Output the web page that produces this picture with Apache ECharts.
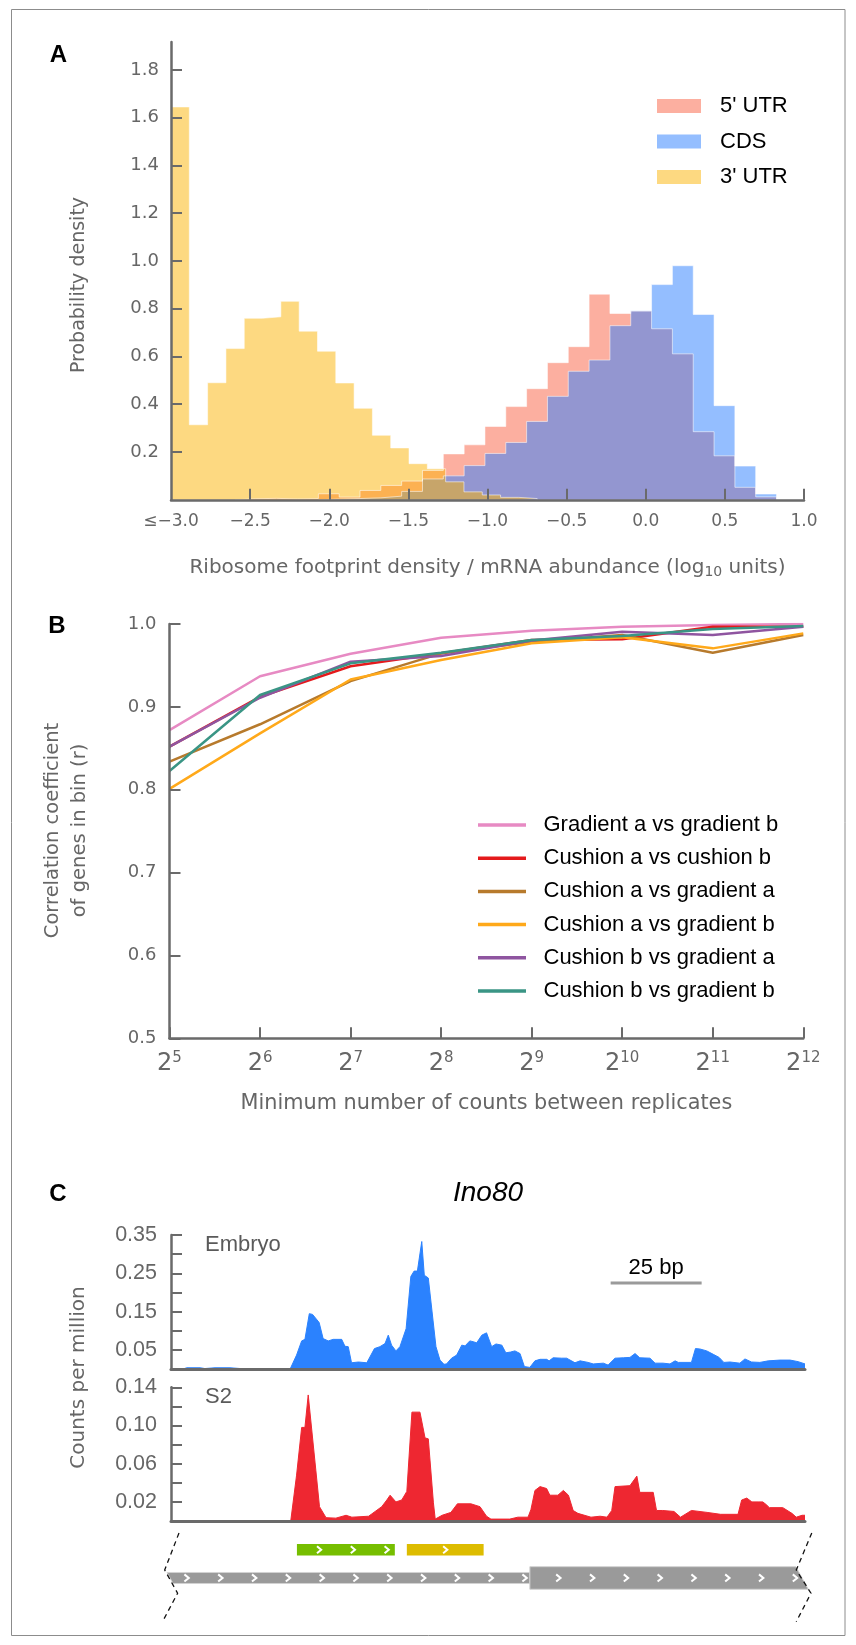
<!DOCTYPE html>
<html><head><meta charset="utf-8">
<script src="https://cdn.jsdelivr.net/npm/echarts@6/dist/echarts.min.js"></script>
<style>html,body{margin:0;padding:0;background:#fff}#c{width:856px;height:1645px}</style>
</head><body><div id="c"></div>
<script>
// ---------------- Panel A: histograms (bin start, bin width, densities) ----------------
const utr5BinStart = -2.99, utr5BinWidth = 0.1316;
const utr5Density = [0,0,0,0.004,0.006,0.003,0.005,0.025,0.011,0.039,0.06,0.078,0.123,0.192,0.23,0.307,0.39,0.465,0.574,0.641,0.861,0.78,0.79,0.716,0.611,0.285,0.184,0.052,0.012];
const cdsBinStart = -2.99, cdsBinWidth = 0.1316;
const cdsDensity = [0,0,0,0,0,0,0,0.003,0.005,0.008,0.015,0.035,0.087,0.1,0.143,0.194,0.24,0.328,0.433,0.538,0.585,0.729,0.792,0.901,0.98,0.776,0.394,0.141,0.024];
const utr3BinStart = -3.0, utr3BinWidth = 0.1157;
const utr3Density = [1.645,0.314,0.49,0.633,0.76,0.766,0.831,0.706,0.622,0.489,0.383,0.27,0.217,0.151,0.13,0.075,0.033,0.02,0.01,0.005];
const histNames = ["5' UTR", "CDS", "3' UTR"];
const aXTicks = [-3,-2.5,-2,-1.5,-1,-0.5,0,0.5,1];
const aYTicks = [0.2,0.4,0.6,0.8,1.0,1.2,1.4,1.6,1.8];

// ---------------- Panel B: correlation vs min counts (log2) ----------------
const countExponents = [5,6,7,8,9,10,11,12];
const gradAvsGradB = [0.872,0.937,0.964,0.9835,0.992,0.9968,0.9988,1.0];
const cushAvsCushB = [0.852,0.912,0.949,0.9646,0.9807,0.9815,0.9968,0.9968];
const cushAvsGradA = [0.834,0.879,0.931,0.9646,0.9787,0.9867,0.9654,0.9867];
const cushAvsGradB = [0.801,0.868,0.933,0.9566,0.9767,0.9839,0.9706,0.9887];
const cushBvsGradA = [0.852,0.911,0.9545,0.9614,0.98,0.9907,0.9867,0.9968];
const cushBvsGradB = [0.8226,0.9143,0.9525,0.9654,0.9807,0.9855,0.994,0.9976];
const corrNames = ['Gradient a vs gradient b','Cushion a vs cushion b','Cushion a vs gradient a','Cushion a vs gradient b','Cushion b vs gradient a','Cushion b vs gradient b'];
const corrSeries = [gradAvsGradB, cushAvsCushB, cushAvsGradA, cushAvsGradB, cushBvsGradA, cushBvsGradB];
const bYTicks = [0.5,0.6,0.7,0.8,0.9,1.0];

// ---------------- Panel C: Ino80 footprint tracks (bp position, counts per million) ----------------
const embryoPos = [0,3.3,4.4,8.0,9.3,12.1,16.2,19.0,21.7,32.1,32.7,34.5,35.9,36.8,38.0,38.9,40.7,41.8,43.2,44.6,46.9,47.8,48.7,49.6,51.5,53.8,55.9,57.4,58.8,59.7,60.6,61.8,62.9,64.6,65.9,66.8,67.7,68.9,69.6,70.7,72.8,73.9,75.0,75.7,77.1,78.5,79.9,80.8,82.1,83.0,84.0,85.4,86.7,87.2,88.1,89.3,90.9,92.0,93.3,94.5,95.9,97.1,98.6,100.0,101.4,103.2,103.9,105.0,107.3,108.7,111.0,112.4,114.6,116.0,118.8,120.1,122.0,124.3,126.1,127.5,128.8,131.6,133.0,135.2,137.1,138.5,139.4,143.0,144.1,145.3,147.2,149.0,150.6,151.9,153.6,156.3,157.7,159.5,161.8,164.1,167.3,170.1,172.3,174.2];
const embryoCpm = [0,0.001,0.004,0.004,0.002,0.004,0.004,0.002,0,0,0,0.037,0.074,0.078,0.145,0.143,0.122,0.080,0.074,0.078,0.078,0.060,0.059,0.017,0.019,0.017,0.054,0.059,0.067,0.089,0.063,0.048,0.059,0.106,0.242,0.256,0.256,0.333,0.245,0.238,0.059,0.024,0.013,0.014,0.029,0.037,0.063,0.061,0.074,0.072,0.069,0.089,0.095,0.093,0.059,0.066,0.063,0.043,0.045,0.048,0.041,0.007,0.005,0.022,0.026,0.026,0.022,0.030,0.029,0.029,0.017,0.022,0.018,0.014,0.016,0.011,0.029,0.030,0.031,0.041,0.030,0.029,0.016,0.016,0.014,0.022,0.018,0.018,0.054,0.053,0.048,0.039,0.031,0.018,0.019,0.016,0.027,0.019,0.018,0.022,0.024,0.024,0.020,0.014];
const s2Pos = [0,32.1,32.9,34.5,35.9,36.8,37.7,39.8,40.8,42.6,45.3,48.1,49.7,54.3,57.9,59.3,60.2,61.8,63.4,64.8,66.2,68.4,69.8,70.7,72.1,72.6,74.5,76.9,78.7,82.4,84.9,86.7,87.9,93.1,95.3,98.1,98.9,100.0,101.4,103.2,104.1,106.3,107.8,109.2,110.5,111.8,115.4,117.9,119.8,121.1,122.0,126.1,128.0,128.8,132.5,133.4,135.1,138.2,140.0,143.0,147.3,151.0,155.8,156.8,158.2,159.6,161.3,162.6,163.6,164.4,168.1,170.6,171.8,173.4,174.2];
const s2Cpm = [0,0,0,0.048,0.098,0.098,0.132,0.053,0.015,0.0035,0.003,0.006,0.004,0.005,0.015,0.022,0.027,0.020,0.022,0.031,0.114,0.114,0.087,0.086,0.019,0.002,0.006,0.009,0.018,0.018,0.015,0.005,0.002,0.002,0.004,0.004,0.012,0.032,0.036,0.034,0.027,0.027,0.032,0.027,0.011,0.008,0.004,0.005,0.004,0.011,0.036,0.037,0.047,0.030,0.030,0.011,0.011,0.010,0.004,0.011,0.009,0.007,0.007,0.022,0.024,0.020,0.020,0.020,0.017,0.014,0.014,0.008,0.004,0.006,0.006];
const trackLength = 174.2;            // bp shown
const scaleBar = [120.8, 145.8, 0.2246]; // start bp, end bp, height (cpm)
const scaleBarLabel = '25 bp';
const embryoTicks = [0.05,0.10,0.15,0.20,0.25,0.30,0.35];
const embryoLabels = [0.05,0.15,0.25,0.35];
const s2Ticks = [0.02,0.04,0.06,0.08,0.10,0.12,0.14];
const s2Labels = [0.02,0.06,0.10,0.14];
// gene model (bp)
const geneSegStart = [-1.1, 98.6];
const geneSegEnd = [98.6, 175.1];
const geneSegType = ['UTR', 'CDS'];
const uorfStart = [34.6, 64.8];
const uorfEnd = [61.5, 85.9];
const uorfArrows = [3, 1];

// ---------------- styles ----------------
const ARIAL = '"Liberation Sans", Arial, sans-serif';
const DEJAVU = '"DejaVu Sans", sans-serif';
const GRAY = '#666';
const AXG = '#6a6a6a';
const histColors = ['rgba(249,95,65,0.5)', 'rgba(41,125,255,0.5)', 'rgba(251,179,3,0.5)'];
const corrColors = ['#E78AC3', '#E41A1C', '#B77A2C', '#FFA91A', '#8F55A0', '#3A9585'];
const uorfColors = ['#76BE00', '#DDBC00'];
const MODEL_ROW = 0.495, UORF_ROW = 0.792;

function histPath(start, width, dens) {
  const first = dens.findIndex(v => v > 0);
  const pts = [[start + first * width, 0]];
  for (let i = first; i < dens.length; i++) pts.push([start + i * width, dens[i]]);
  pts.push([start + dens.length * width, 0]);
  return pts;
}
const fmtMinus = v => (v < 0 ? '\u2212' : '') + Math.abs(v).toFixed(1);

function chev(x, y, s) {
  return {type: 'polyline', shape: {points: [[x - 2.2*s, y - 3.6*s], [x + 2.2*s, y], [x - 2.2*s, y + 3.6*s]]},
          style: {stroke: '#fff', lineWidth: 2, fill: null}};
}

const chart = echarts.init(document.getElementById('c'), null, {renderer: 'canvas', width: 856, height: 1645});

const axisLineStyle = {color: AXG, width: 2.5};
const tickStyle = {color: AXG, width: 2};

const series = [];
const histData = [[utr5BinStart, utr5BinWidth, utr5Density], [cdsBinStart, cdsBinWidth, cdsDensity], [utr3BinStart, utr3BinWidth, utr3Density]];
histData.forEach((h, i) => {
  series.push({
    type: 'line', name: histNames[i], xAxisIndex: 0, yAxisIndex: 0,
    data: histPath(h[0], h[1], h[2]), step: 'end', symbol: 'none', showSymbol: false,
    lineStyle: {color: 'rgba(255,255,255,0.55)', width: 1},
    areaStyle: {color: histColors[i], opacity: 1},
    itemStyle: {color: histColors[i]}, z: 2, silent: true
  });
});
corrSeries.forEach((vals, i) => {
  series.push({
    type: 'line', name: corrNames[i], xAxisIndex: 1, yAxisIndex: 1,
    data: countExponents.map((e, j) => [e, vals[j]]), symbol: 'none', showSymbol: false,
    color: corrColors[i], lineStyle: {color: corrColors[i], width: 2.5}, itemStyle: {color: corrColors[i]}, z: 3
  });
});
series.push({
  type: 'line', name: 'Embryo', xAxisIndex: 2, yAxisIndex: 2,
  data: embryoPos.map((p, i) => [p, embryoCpm[i]]), symbol: 'none', showSymbol: false,
  lineStyle: {color: '#2B82FE', width: 1}, areaStyle: {color: '#2B82FE', opacity: 1}, z: 2
});
series.push({
  type: 'line', name: 'S2', xAxisIndex: 3, yAxisIndex: 3,
  data: s2Pos.map((p, i) => [p, s2Cpm[i]]), symbol: 'none', showSymbol: false,
  lineStyle: {color: '#EE2731', width: 1}, areaStyle: {color: '#EE2731', opacity: 1}, z: 2
});
series.push({
  type: 'custom', name: 'scalebar', xAxisIndex: 2, yAxisIndex: 2, data: [scaleBar],
  renderItem: (params, api) => {
    const a = api.coord([api.value(0), api.value(2)]), b = api.coord([api.value(1), api.value(2)]);
    return {type: 'group', children: [
      {type: 'line', shape: {x1: a[0], y1: a[1], x2: b[0], y2: b[1]}, style: {stroke: '#9a9a9a', lineWidth: 3}},
      {type: 'text', x: (a[0] + b[0]) / 2, y: a[1] - 15.5, style: {text: scaleBarLabel, fontSize: 22, fontFamily: ARIAL, fill: '#000', align: 'center', verticalAlign: 'middle'}}
    ]};
  }
});
series.push({
  type: 'custom', name: 'gene', xAxisIndex: 4, yAxisIndex: 4, clip: false,
  data: geneSegStart.map((s, i) => [s, geneSegEnd[i], i]),
  renderItem: (params, api) => {
    const idx = api.value(2);
    const cds = geneSegType[idx] === 'CDS';
    const h = cds ? 22.6 : 11;
    const a = api.coord([api.value(0), MODEL_ROW]), b = api.coord([api.value(1), MODEL_ROW]);
    const cy = a[1], top = cy - h / 2, bot = cy + h / 2, sl = 0.55 * h;
    const first = idx === 0, last = idx === geneSegStart.length - 1;
    const lt = a[0], lb = first ? a[0] + sl : a[0];
    const rt = last ? b[0] - sl : b[0], rb = b[0];
    const ch = [{type: 'polygon', shape: {points: [[lt, top], [rt, top], [rb, bot], [lb, bot]]}, style: {fill: '#9a9a9a', stroke: '#d2d2d2', lineWidth: 1}}];
    const x0 = api.coord([geneSegStart[0], MODEL_ROW])[0] + 19.6;
    const lo = (lt + lb) / 2 + 4, hi = (rt + rb) / 2 - 3;
    for (let x = x0; x < 900; x += 33.8) { if (x >= lo && x <= hi) ch.push(chev(x, cy, 1)); }
    const dash = {stroke: '#111', lineWidth: 1.3, lineDash: [5, 4], fill: null};
    if (first) ch.push({type: 'polyline', shape: {points: [[lt + 12, cy - 45], [lt - 2.3, cy - 8], [lt + 10.6, cy + 15.3], [lt - 4.5, cy + 43.7]]}, style: dash});
    if (last) ch.push({type: 'polyline', shape: {points: [[rb + 3.5, cy - 45], [rb - 12, cy - 8], [rb + 2.7, cy + 15.3], [rb - 12, cy + 43.7]]}, style: dash});
    return {type: 'group', children: ch};
  }
});
series.push({
  type: 'custom', name: 'uORF', xAxisIndex: 4, yAxisIndex: 4, clip: false,
  data: uorfStart.map((s, i) => [s, uorfEnd[i], i]),
  renderItem: (params, api) => {
    const i = api.value(2);
    const a = api.coord([api.value(0), UORF_ROW]), b = api.coord([api.value(1), UORF_ROW]);
    const h = 11.7, cy = a[1];
    const ch = [{type: 'rect', shape: {x: a[0], y: cy - h / 2, width: b[0] - a[0], height: h}, style: {fill: uorfColors[i]}}];
    const n = uorfArrows[i], mid = (a[0] + b[0]) / 2;
    for (let k = 0; k < n; k++) ch.push(chev(mid + (k - (n - 1) / 2) * 33.8 + (n > 1 ? 7 : 0), cy, 0.95));
    return {type: 'group', children: ch};
  }
});

function txt(text, x, y, o) {
  o = o || {};
  const el = {type: 'text', x: x, y: y, silent: true, rotation: o.rot || 0,
    style: Object.assign({text: text, fontSize: 20, fontFamily: DEJAVU, fill: GRAY, align: 'center', verticalAlign: 'middle'}, o.style || {})};
  return el;
}

const option = {
  backgroundColor: '#fff',
  animation: false,
  grid: [
    {left: 171, right: 52, top: 42, bottom: 1145.25, outerBoundsMode: 'none'},
    {left: 169.5, right: 52.7, top: 624, bottom: 606.7, outerBoundsMode: 'none'},
    {left: 171, right: 51, top: 1235, bottom: 275.7, outerBoundsMode: 'none'},
    {left: 171, right: 51, top: 1387.3, bottom: 124, outerBoundsMode: 'none'},
    {left: 171, right: 51, top: 1530, bottom: 20, outerBoundsMode: 'none'}
  ],
  xAxis: [
    {type: 'value', gridIndex: 0, min: -3, max: 1, interval: 0.5, z: 5,
     axisLine: {show: true, onZero: false, lineStyle: axisLineStyle},
     axisTick: {show: true, inside: true, length: 11, customValues: aXTicks.slice(1), lineStyle: tickStyle},
     axisLabel: {customValues: aXTicks, margin: 13, fontFamily: DEJAVU, fontSize: 17, color: GRAY,
                 formatter: v => (Math.abs(v + 3) < 1e-9 ? '\u2264' : '') + fmtMinus(v)},
     splitLine: {show: false}},
    {type: 'value', gridIndex: 1, min: 5, max: 12, interval: 1, z: 5,
     axisLine: {show: true, onZero: false, lineStyle: axisLineStyle},
     axisTick: {show: true, inside: true, length: 11, lineStyle: tickStyle},
     axisLabel: {margin: 12, formatter: v => '{b|2}{s|' + v + '}',
       rich: {b: {fontSize: 24, fontFamily: DEJAVU, color: GRAY, lineHeight: 26},
              s: {fontSize: 15, fontFamily: DEJAVU, color: GRAY, verticalAlign: 'top', lineHeight: 12}}},
     splitLine: {show: false}},
    {type: 'value', gridIndex: 2, min: 0, max: trackLength, z: 5,
     axisLine: {show: true, onZero: false, lineStyle: {color: AXG, width: 3}}, axisTick: {show: false}, axisLabel: {show: false}, splitLine: {show: false}},
    {type: 'value', gridIndex: 3, min: 0, max: trackLength, z: 5,
     axisLine: {show: true, onZero: false, lineStyle: {color: AXG, width: 3}}, axisTick: {show: false}, axisLabel: {show: false}, splitLine: {show: false}},
    {type: 'value', gridIndex: 4, min: 0, max: trackLength, show: false}
  ],
  yAxis: [
    {type: 'value', gridIndex: 0, min: 0, max: 1.917, z: 5,
     axisLine: {show: true, onZero: false, lineStyle: axisLineStyle},
     axisTick: {show: true, inside: true, length: 11, customValues: aYTicks, lineStyle: tickStyle},
     axisLabel: {customValues: aYTicks, margin: 12, fontFamily: DEJAVU, fontSize: 18, color: GRAY, formatter: v => v.toFixed(1)},
     splitLine: {show: false}},
    {type: 'value', gridIndex: 1, min: 0.5, max: 1.0, interval: 0.1, z: 5,
     axisLine: {show: true, onZero: false, lineStyle: axisLineStyle},
     axisTick: {show: true, inside: true, length: 11, customValues: bYTicks, lineStyle: tickStyle},
     axisLabel: {customValues: bYTicks, margin: 13, fontFamily: DEJAVU, fontSize: 18, color: GRAY, formatter: v => v.toFixed(1)},
     splitLine: {show: false}},
    {type: 'value', gridIndex: 2, min: 0, max: 0.35, z: 5,
     axisLine: {show: true, onZero: false, lineStyle: axisLineStyle},
     axisTick: {show: true, inside: true, length: 11, customValues: embryoTicks, lineStyle: tickStyle},
     axisLabel: {customValues: embryoLabels, margin: 14, fontFamily: ARIAL, fontSize: 21.5, color: GRAY, formatter: v => v.toFixed(2)},
     splitLine: {show: false}},
    {type: 'value', gridIndex: 3, min: 0, max: 0.14, z: 5,
     axisLine: {show: true, onZero: false, lineStyle: axisLineStyle},
     axisTick: {show: true, inside: true, length: 11, customValues: s2Ticks, lineStyle: tickStyle},
     axisLabel: {customValues: s2Labels, margin: 14, fontFamily: ARIAL, fontSize: 21.5, color: GRAY, formatter: v => v.toFixed(2)},
     splitLine: {show: false}},
    {type: 'value', gridIndex: 4, min: 0, max: 1, show: false}
  ],
  legend: [
    {data: histNames, orient: 'vertical', left: 652, top: 90, icon: 'rect', itemWidth: 44, itemHeight: 14, itemGap: 13.5,
     itemStyle: {borderWidth: 0}, selectedMode: false,
     textStyle: {fontSize: 22, fontFamily: ARIAL, color: '#000', lineHeight: 18, padding: [0, 0, 0, 14]}},
    {data: corrNames, orient: 'vertical', left: 473, top: 809, icon: 'rect', itemWidth: 48, itemHeight: 3.5, itemGap: 11.2,
     itemStyle: {borderWidth: 0}, selectedMode: false,
     textStyle: {fontSize: 22, fontFamily: ARIAL, color: '#000', lineHeight: 22, padding: [0, 0, 0, 12.5]}}
  ],
  graphic: {elements: [
    {type: 'rect', silent: true, z: -10, shape: {x: 11.5, y: 9.5, width: 833.5, height: 1626}, style: {fill: 'rgba(0,0,0,0)', stroke: '#8c8c8c', lineWidth: 1}},
    txt('A', 58.5, 55.5, {style: {fontFamily: ARIAL, fontWeight: 'bold', fontSize: 24, fill: '#000'}}),
    txt('B', 57, 626, {style: {fontFamily: ARIAL, fontWeight: 'bold', fontSize: 24, fill: '#000'}}),
    txt('C', 58, 1194, {style: {fontFamily: ARIAL, fontWeight: 'bold', fontSize: 24, fill: '#000'}}),
    txt('Probability density', 79, 285, {rot: Math.PI / 2, style: {fontSize: 19}}),
    txt('Ribosome footprint density / mRNA abundance (log{s|10} units)', 487.5, 567.5,
        {style: {fontSize: 20, rich: {s: {fontSize: 14, fontFamily: DEJAVU, fill: GRAY, padding: [9, 0, 0, 0]}}}}),
    txt('Correlation coefficient\nof genes in bin (r)', 66, 830.5, {rot: Math.PI / 2, style: {fontSize: 19.5, lineHeight: 27}}),
    txt('Minimum number of counts between replicates', 486.4, 1104, {style: {fontSize: 20.8}}),
    txt('Ino80', 488, 1193, {style: {fontFamily: ARIAL, fontStyle: 'italic', fontSize: 28, fill: '#000'}}),
    txt('Embryo', 205, 1244.5, {style: {fontFamily: ARIAL, fontSize: 22, align: 'left', fill: '#5a5a5a'}}),
    txt('S2', 205, 1397, {style: {fontFamily: ARIAL, fontSize: 22, align: 'left', fill: '#5a5a5a'}}),
    txt('Counts per million', 79, 1377.5, {rot: Math.PI / 2, style: {fontSize: 20}})
  ]},
  series: series
};
chart.setOption(option);
</script>
</body></html>
